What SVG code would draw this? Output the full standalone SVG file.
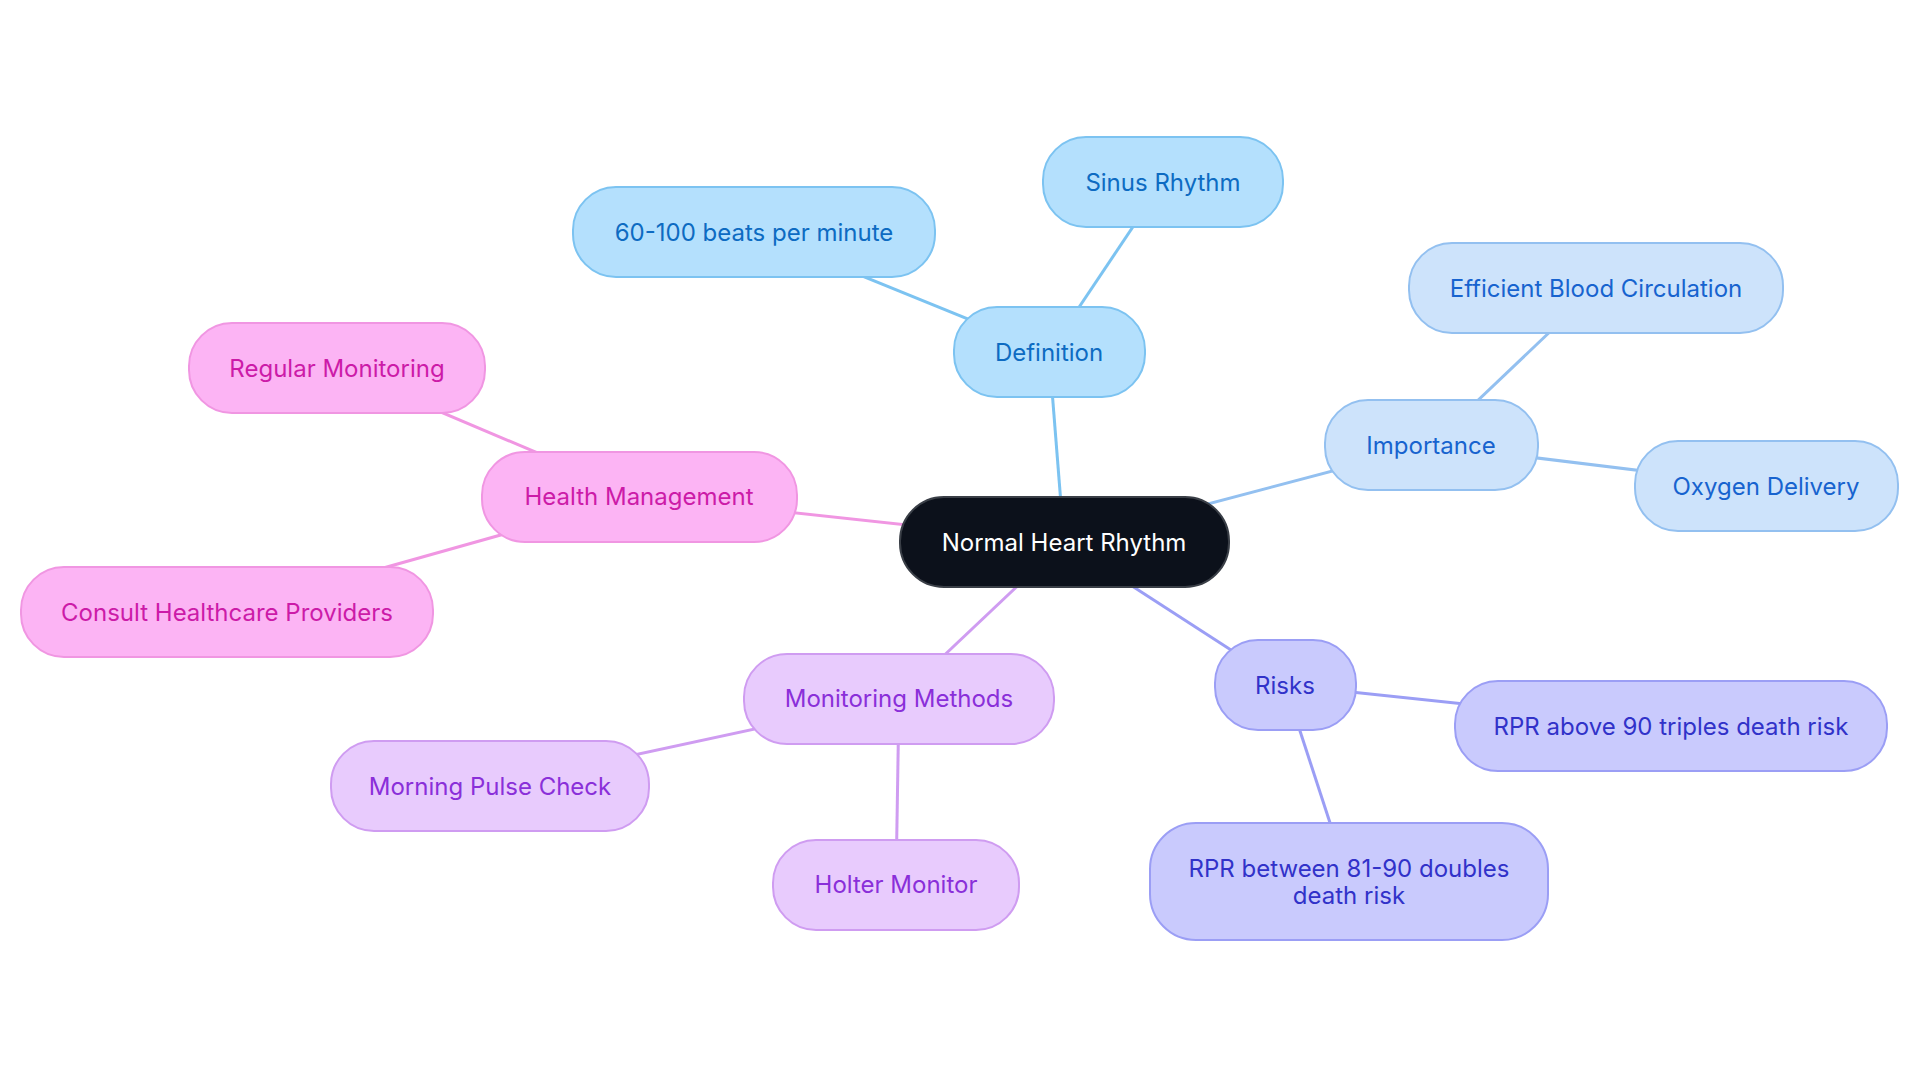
<svg xmlns="http://www.w3.org/2000/svg" width="1920" height="1083" viewBox="0 0 1920 1083">
<style>
text{font-family:Inter,"Noto Sans","Liberation Sans",sans-serif;font-size:24px;text-anchor:middle;dominant-baseline:central}
.c rect{fill:#0c111b;stroke:#3a3f47;stroke-width:2}
.c text{fill:#ffffff}
.d rect{fill:#b4e0fd;stroke:#7cc3f1;stroke-width:2}
.d text{fill:#0d6bc2}
.i rect{fill:#cde3fb;stroke:#93c0f0;stroke-width:2}
.i text{fill:#1763cf}
.r rect{fill:#c9cafd;stroke:#9b9ef5;stroke-width:2}
.r text{fill:#3132c9}
.m rect{fill:#e8cbfd;stroke:#cf9cf1;stroke-width:2}
.m text{fill:#8a2fd9}
.h rect{fill:#fcb4f4;stroke:#f096e2;stroke-width:2}
.h text{fill:#cc1ba8}
#connectors line{stroke-width:3;fill:none}
.ld{stroke:#7cc3f1}.li{stroke:#93c0f0}.lr{stroke:#9b9ef5}.lm{stroke:#cf9cf1}.lh{stroke:#f096e2}
</style>
<rect width="1920" height="1083" fill="#ffffff"/>
<g id="connectors">
<line class="ld" x1="1064" y1="542" x2="1049" y2="352"/>
<line class="ld" x1="1049" y1="352" x2="1163" y2="182"/>
<line class="ld" x1="1049" y1="352" x2="754" y2="232"/>
<line class="li" x1="1064" y1="542" x2="1431" y2="445"/>
<line class="li" x1="1431" y1="445" x2="1596" y2="288"/>
<line class="li" x1="1431" y1="445" x2="1766" y2="486"/>
<line class="lr" x1="1064" y1="542" x2="1285" y2="685"/>
<line class="lr" x1="1285" y1="685" x2="1671" y2="726"/>
<line class="lr" x1="1285" y1="685" x2="1349" y2="881"/>
<line class="lm" x1="1064" y1="542" x2="899" y2="698"/>
<line class="lm" x1="899" y1="698" x2="490" y2="786"/>
<line class="lm" x1="899" y1="698" x2="896" y2="884"/>
<line class="lh" x1="1064" y1="542" x2="639" y2="496"/>
<line class="lh" x1="639" y1="496" x2="337" y2="368"/>
<line class="lh" x1="639" y1="496" x2="227" y2="612"/>
</g>
<g id="node-center" class="c"><rect x="900" y="497" width="329" height="90" rx="44"/><text x="1064" y="542">Normal Heart Rhythm</text></g>
<g id="node-definition" class="d"><rect x="954" y="307" width="191" height="90" rx="43"/><text x="1049" y="352">Definition</text></g>
<g id="node-sinus" class="d"><rect x="1043" y="137" width="240" height="90" rx="43"/><text x="1163" y="182">Sinus Rhythm</text></g>
<g id="node-bpm" class="d"><rect x="573" y="187" width="362" height="90" rx="43"/><text x="754" y="232">60-100 beats per minute</text></g>
<g id="node-importance" class="i"><rect x="1325" y="400" width="213" height="90" rx="43"/><text x="1431" y="445">Importance</text></g>
<g id="node-circulation" class="i"><rect x="1409" y="243" width="374" height="90" rx="43"/><text x="1596" y="288">Efficient Blood Circulation</text></g>
<g id="node-oxygen" class="i"><rect x="1635" y="441" width="263" height="90" rx="43"/><text x="1766" y="486">Oxygen Delivery</text></g>
<g id="node-risks" class="r"><rect x="1215" y="640" width="141" height="90" rx="43"/><text x="1285" y="685">Risks</text></g>
<g id="node-rpr90" class="r"><rect x="1455" y="681" width="432" height="90" rx="43"/><text x="1671" y="726">RPR above 90 triples death risk</text></g>
<g id="node-rpr81" class="r"><rect x="1150" y="823" width="398" height="117" rx="46"/><text x="1349" y="868">RPR between 81-90 doubles</text><text x="1349" y="895">death risk</text></g>
<g id="node-monitoring" class="m"><rect x="744" y="654" width="310" height="90" rx="43"/><text x="899" y="698">Monitoring Methods</text></g>
<g id="node-pulse" class="m"><rect x="331" y="741" width="318" height="90" rx="43"/><text x="490" y="786">Morning Pulse Check</text></g>
<g id="node-holter" class="m"><rect x="773" y="840" width="246" height="90" rx="43"/><text x="896" y="884">Holter Monitor</text></g>
<g id="node-health" class="h"><rect x="482" y="452" width="315" height="90" rx="43"/><text x="639" y="496">Health Management</text></g>
<g id="node-regular" class="h"><rect x="189" y="323" width="296" height="90" rx="43"/><text x="337" y="368">Regular Monitoring</text></g>
<g id="node-consult" class="h"><rect x="21" y="567" width="412" height="90" rx="43"/><text x="227" y="612">Consult Healthcare Providers</text></g>
</svg>
